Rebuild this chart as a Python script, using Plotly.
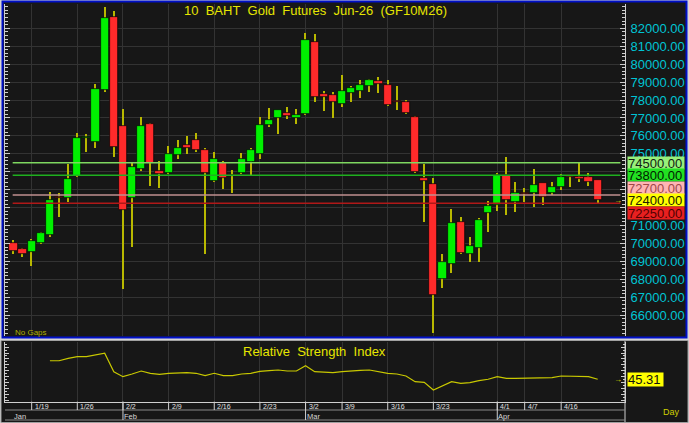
import plotly.graph_objects as go

W, H = 689, 423
FONT = "Arial, 'Liberation Sans', sans-serif"

# ---------------- data ----------------
dates = ["1/15", "1/16", "1/19", "1/20", "1/21", "1/22", "1/23", "1/26", "1/27", "1/28", "1/29", "1/30",
         "2/2", "2/3", "2/4", "2/5", "2/6", "2/9", "2/10", "2/11", "2/12", "2/13", "2/16", "2/17", "2/18",
         "2/19", "2/20", "2/23", "2/24", "2/25", "2/26", "2/27", "3/2", "3/4", "3/5", "3/6", "3/9", "3/10",
         "3/11", "3/12", "3/13", "3/16", "3/17", "3/18", "3/19", "3/20", "3/23", "3/24", "3/25", "3/26",
         "3/27", "3/30", "3/31", "4/1", "4/2", "4/3", "4/7", "4/8", "4/9", "4/10", "4/16", "4/17", "4/20",
         "4/21", "4/22"]

opens = [70030, 69690, 69540, 70040, 70470, 72600, 72550, 73760, 75880, 75640, 78540, 82630,
         76550, 72550, 74140, 76650, 74040, 73910, 74930, 75490, 75770, 75210, 73500, 74470, 73830,
         73910, 74560, 74990, 76590, 76980, 77260, 76980, 77200, 81240, 78340, 78280, 77780, 78410,
         78500, 78800, 79040, 78820, 77950, 77910, 77040, 73630, 73320, 68000, 68860, 71210,
         69410, 69760, 71680, 72150, 73820, 72330, 72800, 72830, 73390, 72830, 73130, 73820, 73720,
         73690, 73540]
highs = [70190, 69760, 70270, 70650, 72890, 72800, 74430, 76140, 76090, 78890, 83170, 82970,
         77480, 74470, 77040, 76740, 74620, 75440, 75770, 75990, 76140, 75340, 75100, 74600, 74100,
         75030, 75340, 77040, 77540, 77450, 77630, 77480, 81720, 81680, 78520, 78460, 79400, 78780,
         79120, 79150, 79300, 79120, 78780, 78000, 77100, 74420, 73630, 69400, 71910, 71460,
         70340, 71400, 72390, 73910, 74810, 73450, 73080, 74140, 73400, 73450, 73870, 73830, 74500,
         73910, 73540]
lows = [69400, 69230, 68740, 69950, 70380, 71460, 72330, 73720, 75090, 75340, 78450, 74810,
        67440, 69820, 74060, 73210, 73080, 73850, 74690, 74990, 75120, 69400, 73450, 73020, 72800,
        73850, 73820, 74690, 76500, 76100, 76920, 76660, 77150, 77910, 77400, 76980, 77590, 77890,
        78100, 78460, 78380, 77670, 77440, 77220, 73950, 71210, 64990, 67500, 68340, 69400,
        68980, 68980, 70660, 71830, 71590, 71770, 72330, 72020, 72150, 72700, 72980, 73170, 73450,
        73210, 72270]
closes = [69570, 69400, 70140, 70580, 72420, 72560, 73580, 75900, 75930, 78630, 82570, 75360,
          71870, 74280, 76550, 74470, 73860, 74990, 75340, 75310, 75210, 73910, 74710, 73670, 73780,
          74730, 75210, 76590, 76890, 77440, 77110, 77170, 81350, 78150, 78150, 77910, 78520, 78650,
          78840, 79120, 78880, 77720, 77870, 77290, 74000, 73500, 67130, 68980, 71130, 69450,
          69860, 71310, 72090, 73820, 72420, 72830, 72740, 73260, 72580, 73130, 73690, 73690, 73610,
          73450, 72400]

rsi = [None, None, None, None, 76.9, 76.9, 81.0, 83.8, 83.8, 86.7, 89.6, 58.2,
       49.7, 54.3, 59.4, 55.5, 53.8, 55.5, 56.5, 56.5, 55.5, 51.4, 55.5, 51.4, 51.4,
       54.3, 55.5, 58.9, 59.9, 61.1, 59.4, 59.4, 68.4, 58.2, 57.5, 56.5, 58.2, 59.9,
       60.5, 61.1, 58.2, 55.5, 54.3, 50.9, 41.2, 40.1, 27.0, 33.8, 41.2, 38.4,
       39.5, 42.9, 45.3, 49.7, 47.0, 47.0, 47.0, 48.0, 47.0, 48.0, 50.9, 50.9, 50.9,
       49.7, 45.31]

week_labels = ["1/19", "1/26", "2/2", "2/9", "2/16", "2/23", "3/2", "3/9", "3/16", "3/23", "4/1", "4/7", "4/16"]
month_labels = ["Jan", "Feb", "Mar", "Apr"]
month_starts = ["1/15", "2/2", "3/2", "4/1"]

price_ticks = list(range(66000, 83000, 1000))
hidden_ticks = [72000, 73000, 74000]

levels = [74500, 73800, 72700, 72250]
level_line_colors = ["#7fd860", "#1fb01f", "#c09090", "#b01818"]
level_bg = ["#98f07a", "#22e022", "#ffb4b4", "#e82020"]
level_fg = ["#102010", "#002000", "#a04848", "#500000"]

title_text = "10\u00a0 BAHT\u00a0 Gold\u00a0 Futures\u00a0 Jun-26\u00a0 (GF10M26)"
rsi_title = "Relative\u00a0 Strength\u00a0 Index"

# ---------------- geometry ----------------
def fx(p):
    return p / W

def fy(p):
    return 1 - p / H

MAIN_L, MAIN_R, MAIN_T, MAIN_B = 5, 625, 4, 336
RSI_T, RSI_B = 342, 401.7
XR = [-0.92, 66.99]
YR = [64840, 83355]
RR = [7.1, 108.8]

BG = "#171717"
GRID = "#333333"
AXC = "#cfcfcf"
YEL = "#c8c800"

idx = list(range(len(dates)))
week_idx = [dates.index(d) for d in week_labels]
month_idx = [dates.index(d) for d in month_starts]

fig = go.Figure()

# wicks
fig.add_trace(go.Bar(x=idx, base=lows, y=[h - l for h, l in zip(highs, lows)], width=0.15,
                     marker=dict(color="#b8b800", line=dict(width=0)), hoverinfo="skip",
                     xaxis="x", yaxis="y"))
# bodies
body_col = ["#00f000" if c >= o else "#ff2a2a" for o, c in zip(opens, closes)]
fig.add_trace(go.Bar(x=idx, base=[min(o, c) for o, c in zip(opens, closes)],
                     y=[max(abs(c - o), 20) for o, c in zip(opens, closes)], width=0.9,
                     marker=dict(color=body_col, line=dict(color="#050505", width=0.7)),
                     hoverinfo="skip", xaxis="x", yaxis="y"))
# RSI
fig.add_trace(go.Scatter(x=idx, y=rsi, mode="lines", line=dict(color=YEL, width=1.2),
                         hoverinfo="skip", xaxis="x2", yaxis="y2"))

shapes = []
# panels
shapes.append(dict(type="rect", xref="paper", yref="paper", x0=fx(2.5), x1=fx(686.5), y0=fy(337.5), y1=fy(1.5),
                   fillcolor=BG, line=dict(color="#0010c8", width=2), layer="below"))
shapes.append(dict(type="rect", xref="paper", yref="paper", x0=fx(1), x1=fx(688), y0=fy(422.5), y1=fy(340.5),
                   fillcolor=BG, line=dict(color="#a0a0a0", width=1), layer="below"))
shapes.append(dict(type="line", xref="paper", yref="paper", x0=fx(MAIN_R), x1=fx(MAIN_R), y0=fy(422), y1=fy(341),
                   line=dict(color=AXC, width=1)))
for yy in (410, 420):
    shapes.append(dict(type="line", xref="paper", yref="paper", x0=fx(MAIN_L), x1=fx(MAIN_R), y0=fy(yy), y1=fy(yy),
                       line=dict(color="#8a8a8a", width=1)))
for i in week_idx:
    shapes.append(dict(type="line", xref="x2", yref="paper", x0=i, x1=i, y0=fy(RSI_B), y1=fy(410),
                       line=dict(color=AXC, width=1)))
for i in month_idx[1:]:
    shapes.append(dict(type="line", xref="x2", yref="paper", x0=i, x1=i, y0=fy(RSI_B), y1=fy(420),
                       line=dict(color=AXC, width=1)))
for v, c in zip(levels, level_line_colors):
    shapes.append(dict(type="line", xref="x", yref="y", x0=-0.08, x1=XR[1] - 0.5, y0=v, y1=v,
                       line=dict(color=c, width=1.5)))

ann = []
ann.append(dict(text=title_text, x=fx(315), y=fy(10), xref="paper", yref="paper", showarrow=False,
                font=dict(family=FONT, size=13, color="#e6e600"), xanchor="center", yanchor="middle"))
ann.append(dict(text=rsi_title, x=fx(314), y=fy(351), xref="paper", yref="paper", showarrow=False,
                font=dict(family=FONT, size=13, color="#e6e600"), xanchor="center", yanchor="middle"))
ann.append(dict(text="No Gaps", x=fx(13), y=fy(332.5), xref="paper", yref="paper", showarrow=False,
                font=dict(family=FONT, size=8, color="#b0b000"), xanchor="left", yanchor="middle"))
ann.append(dict(text="Day", x=fx(661), y=fy(412), xref="paper", yref="paper", showarrow=False,
                font=dict(family=FONT, size=9, color="#d0d000"), xanchor="left", yanchor="middle"))
for i, lab in zip(week_idx, week_labels):
    ann.append(dict(text=lab, x=i, xref="x2", y=fy(406), yref="paper", showarrow=False, xanchor="left",
                    yanchor="middle", xshift=1, font=dict(family=FONT, size=7, color="#e0e0e0")))
for i, lab in zip(month_idx, month_labels):
    ann.append(dict(text=lab, x=i, xref="x2", y=fy(416), yref="paper", showarrow=False, xanchor="left",
                    yanchor="middle", xshift=-1, font=dict(family=FONT, size=7.5, color="#d8d8d8")))

# right-side value labels, stacked around the last price
last = closes[-1]
items = [(v, bg, fg) for v, bg, fg in zip(levels, level_bg, level_fg)] + [(last, "#ffff00", "#202000")]
items.sort(key=lambda t: -t[0])
scale = (MAIN_B - MAIN_T) / (YR[1] - YR[0])

def ypix(v):
    return MAIN_T + (YR[1] - v) * scale

LH = 12.6
pos = [ypix(t[0]) for t in items]
a = [t[0] for t in items].index(last)
for k in range(a - 1, -1, -1):
    pos[k] = min(pos[k], pos[k + 1] - LH)
for k in range(a + 1, len(items)):
    pos[k] = max(pos[k], pos[k - 1] + LH)
for (v, bg, fg), p in zip(items, pos):
    ann.append(dict(text="%.2f" % v, x=fx(626.5), xref="paper", y=v, yref="y", yshift=-(p - ypix(v)),
                    showarrow=False, xanchor="left", yanchor="middle", bgcolor=bg, borderpad=0,
                    width=56, height=12, align="left", font=dict(family=FONT, size=13, color=fg)))
ann.append(dict(text="→", x=fx(618), xref="paper", y=last, yref="y", showarrow=False,
                font=dict(family=FONT, size=8, color="#e6e600"), xanchor="center", yanchor="middle"))
ann.append(dict(text="%.2f" % rsi[-1], x=fx(626.5), xref="paper", y=rsi[-1], yref="y2", showarrow=False,
                xanchor="left", yanchor="middle", bgcolor="#ffff00", borderpad=0, width=35, height=13,
                align="left", font=dict(family=FONT, size=13, color="#101010")))
ann.append(dict(text="→", x=fx(618), xref="paper", y=rsi[-1], yref="y2", showarrow=False,
                font=dict(family=FONT, size=8, color="#e6e600"), xanchor="center", yanchor="middle"))

ticktext = ["" if t in hidden_ticks else "%.2f" % t for t in price_ticks]

fig.update_layout(
    width=W, height=H, margin=dict(l=0, r=0, t=0, b=0),
    paper_bgcolor="#d4d4d4", plot_bgcolor="rgba(0,0,0,0)",
    showlegend=False, barmode="overlay", bargap=0,
    shapes=shapes, annotations=ann,
    xaxis=dict(domain=[fx(MAIN_L), fx(MAIN_R)], range=XR, anchor="y", tickmode="array", tickvals=week_idx,
               showticklabels=False, showgrid=True, gridcolor=GRID, gridwidth=1, zeroline=False,
               showline=False, ticks=""),
    yaxis=dict(domain=[fy(MAIN_B), fy(MAIN_T)], range=YR, anchor="x", side="right", tickmode="array",
               tickvals=price_ticks, ticktext=ticktext, tickfont=dict(family=FONT, size=13, color="#00c4d4"),
               showgrid=True, gridcolor=GRID, gridwidth=1, zeroline=False, ticks="inside", ticklen=5,
               tickcolor=AXC, tickwidth=1, showline=True, linecolor=AXC, linewidth=1, mirror="ticks",
               ticklabelstandoff=2,
               minor=dict(tickmode="linear", tick0=0, dtick=200, ticks="inside", ticklen=3, tickcolor=AXC,
                          showgrid=False)),
    xaxis2=dict(domain=[fx(MAIN_L), fx(MAIN_R)], range=XR, anchor="y2", tickmode="array", tickvals=week_idx,
                showticklabels=False, showgrid=True, gridcolor=GRID, gridwidth=1, zeroline=False,
                showline=True, linecolor=AXC, linewidth=1, ticks=""),
    yaxis2=dict(domain=[fy(RSI_B), fy(RSI_T)], range=RR, anchor="x2", side="right", showticklabels=False,
                showgrid=False, zeroline=False, tickmode="linear", tick0=0, dtick=10, ticks="inside", ticklen=4,
                tickcolor=AXC, showline=True, linecolor=AXC, linewidth=1, mirror="ticks",
                minor=dict(tickmode="linear", tick0=0, dtick=5, ticks="inside", ticklen=2, tickcolor=AXC,
                           showgrid=False)),
)

fig.write_html("out.html", config={"displayModeBar": False},
               post_script="document.body.style.margin='0';document.body.style.overflow='hidden';")
